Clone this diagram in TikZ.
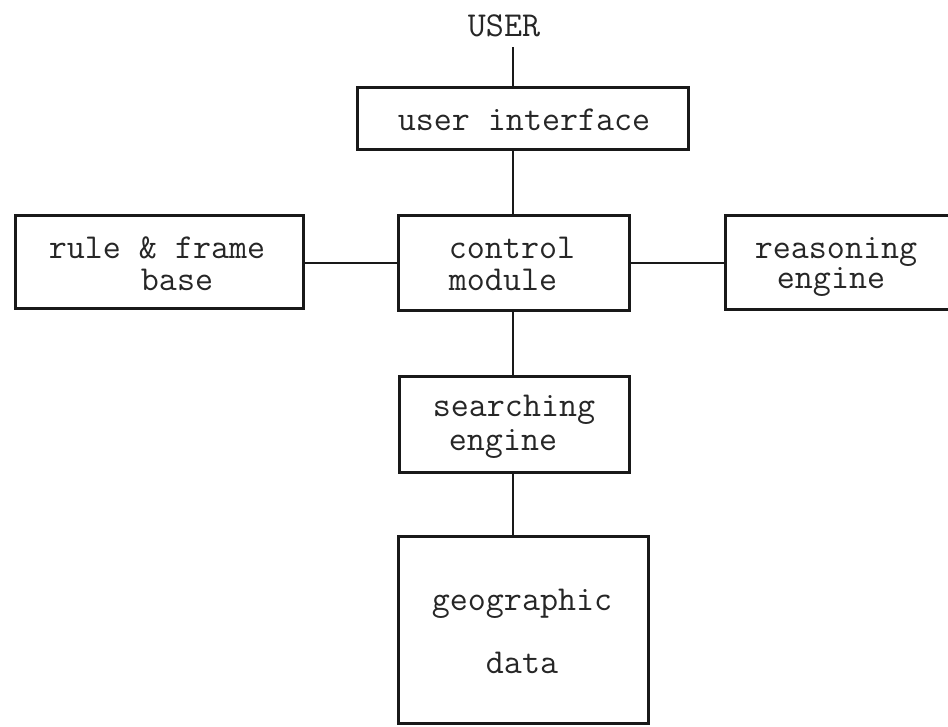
\documentclass[tikz,border=0pt]{standalone}
\begin{document}
\begin{tikzpicture}[x=1pt,y=-1pt,
  box/.style={draw=black!90, line width=3pt, rectangle},
  lbl/.style={font=\ttfamily\fontsize{35}{35}\selectfont, text=black!85, anchor=base, inner sep=0pt},
  conn/.style={draw=black!90, line width=2.6pt}]
\useasboundingbox (0,0) rectangle (948,726);
\clip (0,0) rectangle (948,726);
% boxes
\path[box] (357,87) rectangle (688,149);
\node[inner sep=0, minimum width=331pt, minimum height=62pt] (ui) at (522.5,118) {};
\path[box] (15,215) rectangle (303,308);
\node[inner sep=0, minimum width=288pt, minimum height=93pt] (rule) at (159,261.5) {};
\path[box] (398,215) rectangle (629,310);
\node[inner sep=0, minimum width=231pt, minimum height=95pt] (ctl) at (513.5,262.5) {};
\path[box] (725,215) rectangle (970,309);
\node[inner sep=0, minimum width=245pt, minimum height=94pt] (rsn) at (847.5,262) {};
\path[box] (399,376) rectangle (629,472);
\node[inner sep=0, minimum width=230pt, minimum height=96pt] (srch) at (514,424) {};
\path[box] (398,536) rectangle (648,723);
\node[inner sep=0, minimum width=250pt, minimum height=187pt] (geo) at (523,629.5) {};
% texts
\node[lbl] (user) at (504,36) {USER};
\node[lbl] at (524,130) {user interface};
\node[lbl] at (157,258) {rule \& frame};
\node[lbl] at (177,290) {base};
\node[lbl] at (512,258) {control};
\node[lbl] at (503,290) {module};
\node[lbl] at (836,258) {reasoning};
\node[lbl] at (831,288) {engine};
\node[lbl] at (514,416) {searching};
\node[lbl] at (503,450) {engine};
\node[lbl] at (522,610) {geographic};
\node[lbl] at (522,673) {data};
% connectors
\coordinate (axis) at (513,0);
\coordinate (userb) at (513,47);
\draw[conn] (userb) -- (axis |- ui.north);
\draw[conn] (axis |- ui.south) -- (axis |- ctl.north);
\draw[conn] (axis |- ctl.south) -- (axis |- srch.north);
\draw[conn] (axis |- srch.south) -- (axis |- geo.north);
\coordinate (hrow) at (0,263);
\draw[conn] (hrow -| rule.east) -- (hrow -| ctl.west);
\draw[conn] (hrow -| ctl.east) -- (hrow -| rsn.west);
\end{tikzpicture}
\end{document}
